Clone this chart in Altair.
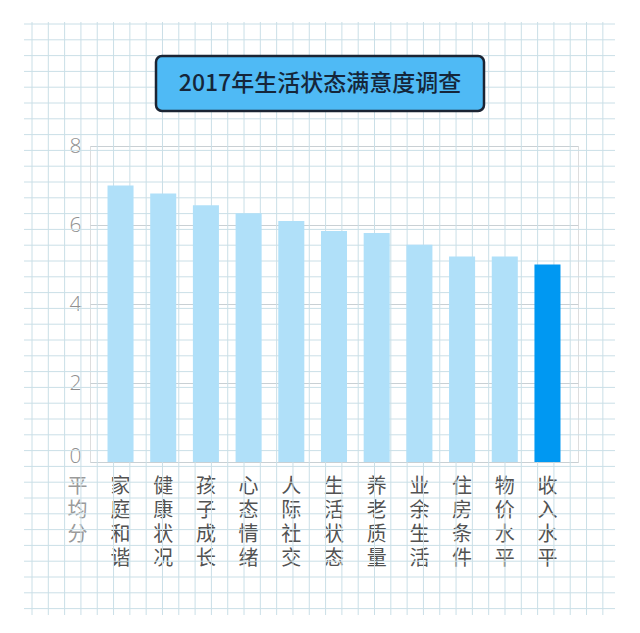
import altair as alt
import pandas as pd

# ---- data ----
categories = ["家庭和谐", "健康状况", "孩子成长", "心态情绪", "人际社交", "生活状态",
              "养老质量", "业余生活", "住房条件", "物价水平", "收入水平"]
scores = [7.0, 6.8, 6.5, 6.3, 6.1, 5.85, 5.8, 5.5, 5.2, 5.2, 5.0]
highlight = [0, 0, 0, 0, 0, 0, 0, 0, 0, 0, 1]
title_text = "2017年生活状态满意度调查"
y_ticks = [0, 2, 4, 6, 8]

df = pd.DataFrame({"cat": categories, "score": scores, "hl": highlight})

# ---- layout (plot area position on page: left 90, top 146, 488 x 316) ----
W, H = 488, 316
PAD_L, PAD_T = 82, 138

# graph-paper background (pixel coordinates relative to the plot area)
v_lines = pd.DataFrame({"px": [-58 + 16.31 * k for k in range(36)]})
h_lines = pd.DataFrame({"py": [-122 + 15.8 * k for k in range(38)]})

grid_color = "#cadfe7"
vgrid = alt.Chart(v_lines).mark_rule(color=grid_color, strokeWidth=1).encode(
    x=alt.X("px:Q", scale=None, axis=None),
    y=alt.value(-124), y2=alt.value(469),
)
hgrid = alt.Chart(h_lines).mark_rule(color=grid_color, strokeWidth=1).encode(
    y=alt.Y("py:Q", scale=None, axis=None),
    x=alt.value(-66), x2=alt.value(525),
)

bars = alt.Chart(df).mark_bar().encode(
    x=alt.X("cat:N", sort=categories,
            scale=alt.Scale(paddingInner=0.39, paddingOuter=0.41),
            axis=alt.Axis(title=None, labelAngle=0, ticks=False, domain=False,
                          labelExpr="split(datum.label, '')",
                          labelFont="Noto Sans CJK SC", labelFontSize=20,
                          labelColor="#525252", labelLineHeight=24,
                          labelBaseline="top", labelPadding=14)),
    y=alt.Y("score:Q", scale=alt.Scale(domain=[0, 8], nice=False),
            axis=alt.Axis(values=y_ticks, ticks=False, domain=False,
                          labelFont="Open Sans", labelFontSize=21,
                          labelFontWeight=300,
                          labelColor="#8f8f8f", labelPadding=9,
                          labelFlush=False,
                          labelBaseline={"condition": {"test": "datum.value == 0",
                                                       "value": "alphabetic"},
                                         "value": "middle"},
                          gridColor="#c9d0d4", gridWidth=1,
                          title=["平", "均", "分"], titleAngle=0,
                          titleX=-13, titleY=330, titleAlign="center",
                          titleBaseline="top", titleLineHeight=24,
                          titleFont="Noto Sans CJK SC", titleFontSize=20,
                          titleFontWeight="normal", titleColor="#9a9a9a")),
    color=alt.Color("hl:N", scale=alt.Scale(domain=[0, 1], range=["#b0e0f9", "#0098f2"]),
                    legend=None),
)

title_df = pd.DataFrame({"t": [title_text]})
title_box = alt.Chart(title_df).mark_rect(
    fill="#4fbaf5", stroke="#1b2433", strokeWidth=2.5, cornerRadius=6
).encode(x=alt.value(66), x2=alt.value(394), y=alt.value(-90), y2=alt.value(-35))
title_txt = alt.Chart(title_df).mark_text(
    font="Noto Sans CJK SC", fontSize=23, fontWeight=500, color="#15263a",
    align="center", baseline="middle"
).encode(text="t:N", x=alt.value(230), y=alt.value(-62))

chart = alt.layer(vgrid, hgrid, bars, title_box, title_txt).resolve_scale(
    x="independent", y="independent"
).properties(
    width=W, height=H,
    padding={"left": PAD_L, "top": PAD_T, "right": 54, "bottom": 163},
    autosize=alt.AutoSizeParams(type="none"),
).configure_view(stroke="#c9d0d4", strokeWidth=1).configure(background="white")

chart.save("out.html", embed_options={"renderer": "svg", "actions": False})
